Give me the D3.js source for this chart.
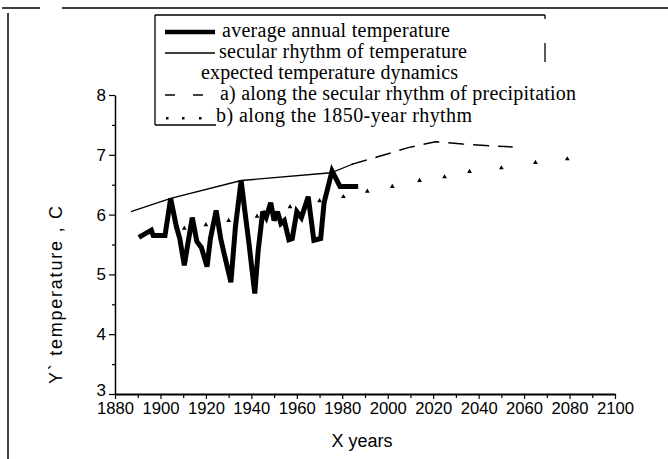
<!DOCTYPE html>
<html>
<head>
<meta charset="utf-8">
<script src="https://cdn.jsdelivr.net/npm/d3@7"></script>
<style>
    body { margin: 0; background: #fff; }
    svg { display: block; }
</style>
</head>
<body>
<svg id="chart" width="668" height="459"></svg>
<script>
// average annual temperature (thick line)
const annualYears = [1890.5, 1896, 1896.8, 1902, 1904.5, 1907, 1908.5, 1910.5, 1912, 1914, 1916, 1918, 1920.5, 1922, 1924.5,
    1926.5, 1928, 1931, 1933, 1935.5, 1937, 1939, 1941.5, 1943, 1945, 1946.5, 1948.5, 1950, 1951.5, 1953, 1954.5,
    1956.5, 1958, 1960, 1962, 1965, 1967.5, 1970.5, 1972, 1975.5, 1979, 1987];
const annualTemps = [5.62, 5.74, 5.65, 5.65, 6.27, 5.8, 5.6, 5.15, 5.5, 5.95, 5.55, 5.45, 5.13, 5.6, 6.07,
    5.6, 5.35, 4.87, 5.8, 6.57, 6.1, 5.5, 4.68, 5.4, 6.05, 5.95, 6.2, 5.9, 6.05, 5.85, 5.9,
    5.58, 5.6, 6.05, 5.95, 6.3, 5.57, 5.6, 6.2, 6.73, 6.47, 6.47];

// secular rhythm of temperature (thin line)
const secularYears = [1887, 1904.5, 1935.5, 1975, 1985];
const secularTemps = [6.05, 6.27, 6.57, 6.7, 6.85];

// a) along the secular rhythm of precipitation (dashed)
const precipYears = [1984, 1996, 2009, 2021, 2033, 2046, 2055];
const precipTemps = [6.84, 6.97, 7.12, 7.22, 7.18, 7.15, 7.13];

// b) along the 1850-year rhythm (dots)
const rhythmYears = [1910.5, 1920, 1930, 1942.5, 1957, 1970, 1980.5, 1991, 2002, 2014, 2025, 2036, 2050, 2065, 2079];
const rhythmTemps = [5.77, 5.83, 5.9, 5.97, 6.13, 6.23, 6.3, 6.39, 6.47, 6.57, 6.63, 6.72, 6.78, 6.87, 6.93];

const xTicks = d3.range(1880, 2101, 20);
const xMinorTicks = d3.range(1890, 2100, 20);
const yTicks = [3, 4, 5, 6, 7, 8];
const yMinorTicks = [3.5, 4.5, 5.5, 6.5, 7.5];

const legendRows = [
    "average annual temperature",
    "secular rhythm of temperature",
    "expected temperature dynamics",
    "a) along the secular rhythm of precipitation",
    "b) along the 1850-year rhythm"
];

const svg = d3.select("#chart");
const x = d3.scaleLinear().domain([1880, 2100]).range([115, 615]);
const y = d3.scaleLinear().domain([3, 8]).range([394, 95]);

const sans = "'Liberation Sans', Arial, sans-serif";
const serif = "'Liberation Serif', 'Times New Roman', serif";

function pairs(xs, ys) {
    return xs.map((d, i) => [d, ys[i]]);
}

// outer frame pieces
svg.append("line").attr("x1", 2).attr("x2", 40).attr("y1", 8).attr("y2", 8)
    .attr("stroke", "#000").attr("stroke-width", 1.5);
svg.append("line").attr("x1", 62).attr("x2", 668).attr("y1", 8).attr("y2", 8)
    .attr("stroke", "#000").attr("stroke-width", 1.5);
svg.append("line").attr("x1", 8).attr("x2", 8).attr("y1", 13).attr("y2", 459)
    .attr("stroke", "#000").attr("stroke-width", 1.5);

// axes
const xAxis = svg.append("g").attr("transform", "translate(0,394)")
    .call(d3.axisBottom(x).tickValues(xTicks).tickSize(5).tickSizeOuter(0).tickPadding(3).tickFormat(d3.format("d")));
svg.append("g").attr("transform", "translate(0,394)")
    .call(d3.axisBottom(x).tickValues(xMinorTicks).tickSize(4).tickSizeOuter(0).tickFormat(""))
    .select(".domain").remove();
const yAxis = svg.append("g").attr("transform", "translate(115,0)")
    .call(d3.axisLeft(y).tickValues(yTicks).tickSize(6).tickSizeOuter(0).tickPadding(3).tickFormat(d3.format("d")));
svg.append("g").attr("transform", "translate(115,0)")
    .call(d3.axisLeft(y).tickValues(yMinorTicks).tickSize(3).tickSizeOuter(0).tickFormat(""))
    .select(".domain").remove();

xAxis.select(".domain").attr("stroke-width", 2);
yAxis.select(".domain").attr("stroke-width", 1.5);
svg.selectAll(".tick line").attr("stroke-width", 1.2);
svg.selectAll(".tick text").attr("font-family", sans).attr("font-size", 17).attr("fill", "#000");
xAxis.selectAll(".tick text").attr("textLength", 37).attr("lengthAdjust", "spacingAndGlyphs");
// the "3" sits right on the x labels, lift it a little
yAxis.selectAll(".tick text").filter(d => d === 3).attr("dy", "0.1em");

// axis titles
svg.append("text")
    .attr("transform", "translate(62,295) rotate(-90)")
    .attr("text-anchor", "middle")
    .attr("font-family", sans).attr("font-size", 18)
    .attr("textLength", 178).attr("lengthAdjust", "spacing")
    .text("Y` temperature , C");
svg.append("text")
    .attr("x", 362).attr("y", 447)
    .attr("text-anchor", "middle")
    .attr("font-family", sans).attr("font-size", 18)
    .text("X  years");

// series
const line = d3.line().x(d => x(d[0])).y(d => y(d[1]));

svg.append("path").datum(pairs(secularYears, secularTemps))
    .attr("d", line).attr("fill", "none").attr("stroke", "#000").attr("stroke-width", 1.3);

svg.append("path").datum(pairs(precipYears, precipTemps))
    .attr("d", line).attr("fill", "none").attr("stroke", "#000").attr("stroke-width", 1.5)
    .attr("stroke-dasharray", "16,9");

svg.append("path").datum(pairs(annualYears, annualTemps))
    .attr("d", line).attr("fill", "none").attr("stroke", "#000").attr("stroke-width", 5)
    .attr("stroke-linejoin", "miter").attr("stroke-miterlimit", 3);

svg.selectAll(".dot").data(pairs(rhythmYears, rhythmTemps)).join("path")
    .attr("class", "dot")
    .attr("transform", d => "translate(" + x(d[0]) + "," + y(d[1]) + ")")
    .attr("d", d3.symbol().type(d3.symbolTriangle).size(10))
    .attr("fill", "#000");

// legend box (only partly closed, like the original)
const legend = svg.append("g");
legend.append("line").attr("x1", 155).attr("x2", 545).attr("y1", 15).attr("y2", 15)
    .attr("stroke", "#000").attr("stroke-width", 1.3);
legend.append("line").attr("x1", 155).attr("x2", 155).attr("y1", 15).attr("y2", 125)
    .attr("stroke", "#000").attr("stroke-width", 1.3);
legend.append("line").attr("x1", 155).attr("x2", 216).attr("y1", 125).attr("y2", 125)
    .attr("stroke", "#000").attr("stroke-width", 1.3);
legend.append("line").attr("x1", 545).attr("x2", 545).attr("y1", 15).attr("y2", 19)
    .attr("stroke", "#000").attr("stroke-width", 1.3);
legend.append("line").attr("x1", 545).attr("x2", 545).attr("y1", 43).attr("y2", 62)
    .attr("stroke", "#000").attr("stroke-width", 1.3);

const rowY = [37, 58, 79, 100, 122];
const rowX = [222, 219, 201, 220, 216];
const rowW = [228, 248, 257, 356, 256];

legend.selectAll("text").data(legendRows).join("text")
    .attr("x", (d, i) => rowX[i]).attr("y", (d, i) => rowY[i])
    .attr("font-family", serif).attr("font-size", 20)
    .attr("textLength", (d, i) => rowW[i]).attr("lengthAdjust", "spacing")
    .text(d => d);

legend.append("line").attr("x1", 165).attr("x2", 215).attr("y1", 32).attr("y2", 32)
    .attr("stroke", "#000").attr("stroke-width", 4.5);
legend.append("line").attr("x1", 165).attr("x2", 215).attr("y1", 53).attr("y2", 53)
    .attr("stroke", "#000").attr("stroke-width", 1.3);
legend.append("line").attr("x1", 165).attr("x2", 205).attr("y1", 95).attr("y2", 95)
    .attr("stroke", "#000").attr("stroke-width", 1.5).attr("stroke-dasharray", "10,18");
legend.selectAll(".ldot").data([167, 183, 200]).join("rect")
    .attr("class", "ldot")
    .attr("x", d => d - 1).attr("y", 117).attr("width", 2.5).attr("height", 2.5)
    .attr("fill", "#000");
</script>
</body>
</html>
